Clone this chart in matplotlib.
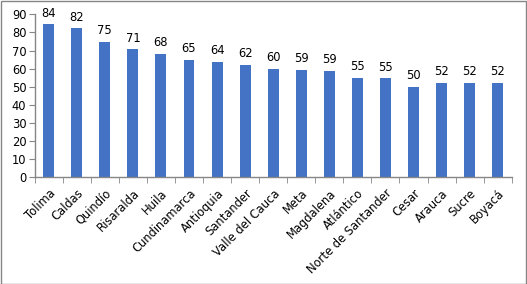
import numpy as np
import matplotlib.pyplot as plt
from matplotlib.patches import Rectangle

# Datos por departamento
departamentos = ["Tolima", "Caldas", "Quindío", "Risaralda", "Huila", "Cundinamarca",
                 "Antioquia", "Santander", "Valle del Cauca", "Meta", "Magdalena",
                 "Atlántico", "Norte de Santander", "Cesar", "Arauca", "Sucre", "Boyacá"]
valores = [84.4, 82.2, 74.6, 70.6, 68.1, 64.8, 63.6, 62.0, 59.8, 59.2, 58.8,
           54.8, 54.6, 49.9, 52.1, 52.1, 52.1]

W, H = 527, 284
fig = plt.figure(figsize=(W / 100, H / 100), dpi=100)
fig.patches.append(Rectangle((0.5 / W, 0.5 / H), 1 - 1.5 / W, 1 - 1.5 / H,
                             transform=fig.transFigure, fill=False,
                             edgecolor="#868686", linewidth=1))

ax = fig.add_axes([34.7 / W, (H - 177.3) / H, (511.7 - 34.7) / W, (177.3 - 14.3) / H])

x = np.arange(len(departamentos))
ax.bar(x, valores, width=0.39, color="#4472C4", zorder=2)

for xi, v in zip(x, valores):
    ax.annotate(f"{round(v):d}", (xi, v), xytext=(0, 3.5), textcoords="offset points",
                ha="center", va="bottom", fontsize=8.3, color="#000000")

ax.set_xlim(-0.5, len(departamentos) - 0.5)
ax.set_ylim(0, 90)
ax.set_yticks(range(0, 91, 10))
ax.tick_params(axis="y", labelsize=8.3, length=4, color="#868686", pad=2)

ax.set_xticks(x)
ax.set_xticklabels(departamentos, rotation=45, ha="right", rotation_mode="anchor", fontsize=8.3)
ax.set_xticks(np.arange(-0.5, len(departamentos)), minor=True)
ax.tick_params(axis="x", which="major", length=0, pad=7)
ax.tick_params(axis="x", which="minor", length=4, color="#868686")

for s in ["top", "right"]:
    ax.spines[s].set_visible(False)
for s in ["left", "bottom"]:
    ax.spines[s].set_color("#868686")
    ax.spines[s].set_linewidth(1)

fig.savefig("out.png", dpi=100)
